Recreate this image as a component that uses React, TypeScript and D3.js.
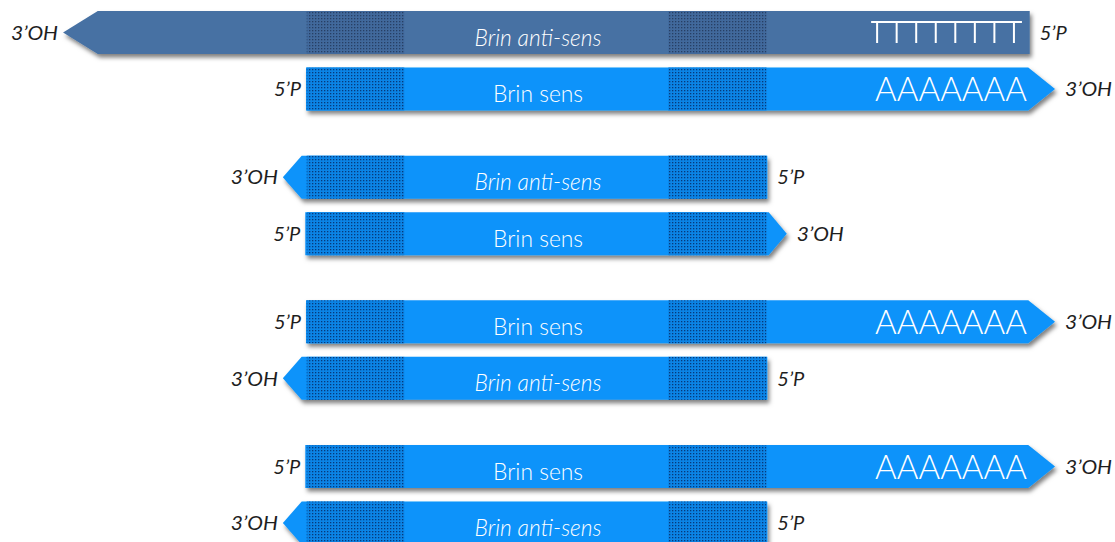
import React from "react";
import * as d3 from "d3";

// ---- data ----
const strandGroup = [0, 0, 1, 1, 2, 2, 3, 3];
const strandRow = [0, 1, 0, 1, 0, 1, 0, 1];
const strandKind = ["anti", "sens", "anti", "sens", "sens", "anti", "sens", "anti"];
const strandDark = [true, false, false, false, false, false, false, false];
// body extent along the sequence (0 = 5' end of mRNA, 100 = 3' end)
const bodyStart = [-28.8, 0, -0.6, -0.1, 0, -0.6, -0.1, -0.6];
const bodyEnd = [100.1, 99.9, 63.8, 64.0, 99.9, 63.8, 99.9, 63.8];
const tipPos = [-33.6, 103.6, -3.2, 66.5, 103.6, -3.2, 103.6, -3.2];
const polyTail = ["T", "A", "", "", "A", "", "A", ""];
const hatchRegions = [
  [0.1, 13.6],
  [50.1, 63.7],
];
const labelSens = "Brin sens";
const labelAnti = "Brin anti-sens";
const end5 = "5’P";
const end3 = "3’OH";
const polyAText = "AAAAAAA";
const polyTCount = 8;
const tailRange = [78.3, 99.3];
const labelCenter = 32.1;

const W = 1115;
const H = 542;
const BAR_H = 43;

const x = d3.scaleLinear().domain([0, 100]).range([306, 1029]);
const yGroup = d3.scaleLinear().domain([0, 3]).range([11, 445]);
const yRow = d3.scaleLinear().domain([0, 1]).range([0, 56.5]);

const BRIGHT = "#0a93fa";
const DARK = "#4671a3";

function strandPath(i: number) {
  const top = yGroup(strandGroup[i]) + yRow(strandRow[i]);
  const bot = top + BAR_H;
  const cy = (top + bot) / 2;
  const s = x(bodyStart[i]);
  const e = x(bodyEnd[i]);
  const t = x(tipPos[i]);
  const p = d3.path();
  if (tipPos[i] < bodyStart[i]) {
    p.moveTo(t, cy);
    p.lineTo(s, top);
    p.lineTo(e, top);
    p.lineTo(e, bot);
    p.lineTo(s, bot);
  } else {
    p.moveTo(s, top);
    p.lineTo(e, top);
    p.lineTo(t, cy);
    p.lineTo(e, bot);
    p.lineTo(s, bot);
  }
  p.closePath();
  return p.toString();
}

export default function App() {
  const font = "Lato, 'Open Sans', sans-serif";
  return (
    <svg
      width={W}
      height={H}
      style={{ position: "absolute", left: 0, top: 0, background: "#fff" }}
    >
      <defs>
        <filter id="shadow" x="-5%" y="-30%" width="110%" height="170%">
          <feDropShadow dx="2" dy="3.5" stdDeviation="2.2" floodColor="#000" floodOpacity="0.5" />
        </filter>
        <pattern id="dotsBright" width="3" height="3" patternUnits="userSpaceOnUse">
          <rect width="3" height="3" fill="#0b84e6" />
          <rect x="0" y="0" width="1.3" height="1.3" fill="#053a7c" />
        </pattern>
        <pattern id="dotsDark" width="3" height="3" patternUnits="userSpaceOnUse">
          <rect width="3" height="3" fill="#41699c" />
          <rect x="0" y="0" width="1.3" height="1.3" fill="#273f64" />
        </pattern>
      </defs>
      {strandKind.map((kind, i) => {
        const top = yGroup(strandGroup[i]) + yRow(strandRow[i]);
        const cy = top + BAR_H / 2;
        const leftTip = tipPos[i] < bodyStart[i];
        const leftX = leftTip ? x(tipPos[i]) : x(bodyStart[i]);
        const rightX = leftTip ? x(bodyEnd[i]) : x(tipPos[i]);
        const leftLabel = leftTip ? end3 : end5;
        const rightLabel = leftTip ? end5 : end3;
        const isAnti = kind === "anti";
        return (
          <g key={i}>
            <path d={strandPath(i)} fill={strandDark[i] ? DARK : BRIGHT} filter="url(#shadow)" />
            {hatchRegions.map(([a, b], j) =>
              b <= bodyEnd[i] + 0.5 ? (
                <rect
                  key={j}
                  x={x(a)}
                  y={top}
                  width={x(b) - x(a)}
                  height={BAR_H}
                  fill={strandDark[i] ? "url(#dotsDark)" : "url(#dotsBright)"}
                />
              ) : null
            )}
            <text
              x={x(labelCenter)}
              y={cy + 13}
              textAnchor="middle"
              fill="#fff"
              fontFamily={font}
              fontWeight={300}
              fontSize={24}
              fontStyle={isAnti ? "italic" : "normal"}
              textLength={isAnti ? 127 : 90}
              lengthAdjust="spacingAndGlyphs"
            >
              {isAnti ? labelAnti : labelSens}
            </text>
            {polyTail[i] === "A" && (
              <text
                x={x(tailRange[0]) + 3}
                y={cy}
                dy="0.37em"
                fill="#fff"
                fontFamily={font}
                fontWeight={300}
                fontSize={33}
                textLength={x(tailRange[1]) - x(tailRange[0])}
                lengthAdjust="spacingAndGlyphs"
              >
                {polyAText}
              </text>
            )}
            {polyTail[i] === "T" && (
              <g stroke="#fff" strokeWidth={2} fill="none">
                <line x1={x(tailRange[0]) - 1} x2={x(tailRange[1]) - 2} y1={top + 11} y2={top + 11} />
                {d3.range(polyTCount).map((k) => {
                  const xx = d3
                    .scaleLinear()
                    .domain([0, polyTCount - 1])
                    .range([x(tailRange[0]) + 5, x(tailRange[1]) - 10])(k);
                  return <line key={k} x1={xx} x2={xx} y1={top + 11} y2={top + 32} />;
                })}
              </g>
            )}
            <text
              x={leftX - 5}
              y={cy}
              dy="0.36em"
              textAnchor="end"
              fill="#1e1e1e"
              fontFamily={font}
              fontStyle="italic"
              fontSize={20}
              textLength={leftLabel === end3 ? 47 : 27}
              lengthAdjust="spacingAndGlyphs"
            >
              {leftLabel}
            </text>
            <text
              x={rightX + 10}
              y={cy}
              dy="0.36em"
              textAnchor="start"
              fill="#1e1e1e"
              fontFamily={font}
              fontStyle="italic"
              fontSize={20}
              textLength={rightLabel === end3 ? 47 : 27}
              lengthAdjust="spacingAndGlyphs"
            >
              {rightLabel}
            </text>
          </g>
        );
      })}
    </svg>
  );
}
